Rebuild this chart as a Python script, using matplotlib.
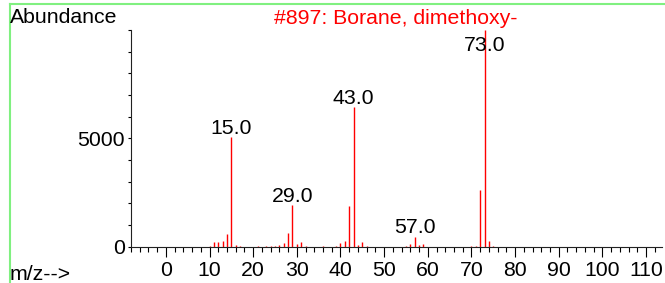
"""
Mass spectrum plot: #897 Borane, dimethoxy-
"""
import numpy as np
import matplotlib.pyplot as plt
from matplotlib.lines import Line2D
from matplotlib.ticker import MultipleLocator, FixedLocator

plt.rcParams['font.family'] = ['Liberation Sans', 'DejaVu Sans']

# ========== Data ==========
mz = [10, 11, 12, 13, 14, 15, 16, 17, 21, 23, 24, 25, 26, 27, 28, 29, 30, 31, 32,
      36, 39, 40, 41, 42, 43, 44, 45, 46, 55, 56, 57, 58, 59, 70, 71, 72, 73, 74, 75]
abundance = [40, 230, 210, 280, 590, 5050, 60, 20, 20, 30, 40, 40, 60, 160, 610, 1910, 140, 220, 30,
             40, 40, 150, 250, 1880, 6430, 90, 200, 20, 40, 130, 460, 70, 110, 20, 30, 2620, 9999, 250, 30]

label_mz = [15, 29, 43, 57, 73]
y_ticks = [0, 5000]
title = '#897: Borane, dimethoxy-'

W, H = 665, 283
fs = 15.3

fig = plt.figure(figsize=(W / 100, H / 100), dpi=100)

# axes placed in pixel units
left, right, top, bottom = 131, 661.7, 30, 246.7
ax = fig.add_axes([left / W, 1 - bottom / H, (right - left) / W, (bottom - top) / H])

ax.vlines(mz, 0, abundance, colors='#ff0000', linewidth=1.0, clip_on=False)

# peak labels (clamped near the top of the axes)
ab = dict(zip(mz, abundance))
for m in label_mz:
    y = min(ab[m], 8850)
    ax.annotate(f'{m:.1f}', xy=(m, y), xytext=(0, 2.5), textcoords='offset points',
                ha='center', va='baseline', fontsize=fs, color='black')

ax.set_xlim(-8, 113.6)
ax.set_ylim(0, 10000)
ax.xaxis.set_major_locator(MultipleLocator(10))
ax.xaxis.set_minor_locator(MultipleLocator(2))
ax.yaxis.set_major_locator(FixedLocator(y_ticks))
ax.yaxis.set_minor_locator(MultipleLocator(1000))

for s in ['top', 'right']:
    ax.spines[s].set_visible(False)
for s in ['left', 'bottom']:
    ax.spines[s].set_linewidth(0.8)
    ax.spines[s].set_color('#222222')

ax.tick_params(axis='x', which='major', direction='out', length=7.2, width=0.8, pad=3, labelsize=fs)
ax.tick_params(axis='x', which='minor', direction='out', length=3.6, width=0.8)
ax.tick_params(axis='y', which='major', direction='out', length=2.5, width=0.8, pad=2, labelsize=fs)
ax.tick_params(axis='y', which='minor', direction='out', length=2.5, width=0.8)

# header and axis texts
fig.text(10 / W, 1 - 23 / H, 'Abundance', fontsize=fs, ha='left', va='baseline')
fig.text(396 / W, 1 - 24 / H, title, fontsize=fs, color='#ff0000', ha='center', va='baseline')
fig.text(10 / W, 1 - 280 / H, 'm/z-->', fontsize=fs, ha='left', va='baseline')

# green frame lines on top and left
green = '#80f080'
fig.add_artist(Line2D([9.5 / W, 9.5 / W], [0, 1 - 4 / H], color=green, linewidth=1.5))
fig.add_artist(Line2D([9.5 / W, 1], [1 - 4 / H, 1 - 4 / H], color=green, linewidth=1.5))

fig.savefig('out.png', dpi=100)
